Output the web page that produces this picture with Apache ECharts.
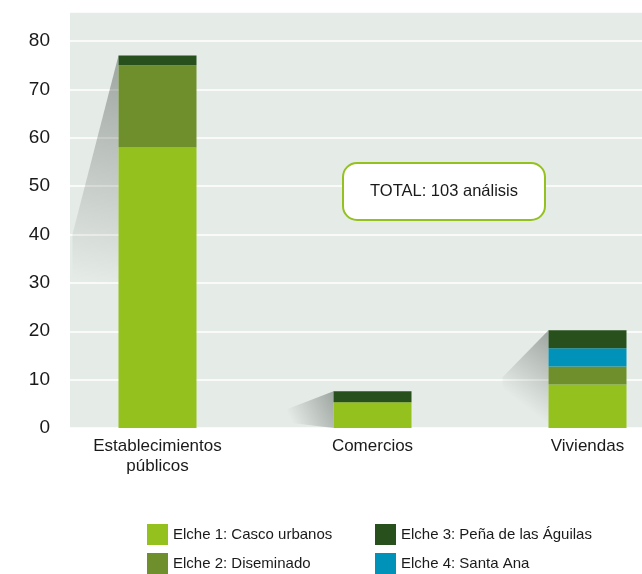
<!DOCTYPE html>
<html><head><meta charset="utf-8">
<script src="https://cdn.jsdelivr.net/npm/echarts@6/dist/echarts.min.js"></script>
<style>html,body{margin:0;padding:0;background:#fff}#c{width:642px;height:574px}</style>
</head><body><div id="c"></div>
<script>
const categories = ['Establecimientos\npúblicos', 'Comercios', 'Viviendas'];
const elche1 = [58, 5.3, 9.0];
const elche2 = [17, null, 3.7];
const elche3 = [2, 2.3, 3.7];
const elche4 = [null, null, 3.8];
const yTicks = [0, 10, 20, 30, 40, 50, 60, 70, 80];
const names = ['Elche 1: Casco urbanos', 'Elche 2: Diseminado', 'Elche 3: Peña de las Águilas', 'Elche 4: Santa Ana'];
const totalLabel = 'TOTAL: 103 análisis';

const colors = {e1:'#95c11f', e2:'#6e8f2c', e3:'#27501c', e4:'#0092b8'};
const FONT = 'Liberation Sans, Arial, sans-serif';
const totals = categories.map((c,i)=>[i, (elche1[i]||0)+(elche2[i]||0)+(elche3[i]||0)+(elche4[i]||0)]);
const BAR_W = 78;

const chart = echarts.init(document.getElementById('c'), null, {renderer:'canvas'});
chart.setOption({
  animation:false,
  backgroundColor:'#fff',
  grid:[
    {left:50, right:-53, top:12, bottom:146, containLabel:false, outerBoundsMode:'none'},
    {left:70, right:0, top:12, bottom:146, show:true, backgroundColor:'#e5ebe7', borderWidth:0, outerBoundsMode:'none'}
  ],
  xAxis:[
    {type:'category', gridIndex:0, data:categories,
     axisLine:{show:false}, axisTick:{show:false},
     axisLabel:{fontFamily:FONT, fontSize:17, color:'#1a1a1a', margin:8, lineHeight:20}},
    {type:'category', gridIndex:1, data:categories, show:false}
  ],
  yAxis:[
    {type:'value', gridIndex:0, min:0, max:86, interval:10, show:false, splitLine:{show:false}},
    {type:'value', gridIndex:1, min:0, max:86, interval:10,
     axisLine:{show:false}, axisTick:{show:false},
     splitLine:{lineStyle:{color:'#ffffff', width:1.5}},
     axisLabel:{fontFamily:FONT, fontSize:19, color:'#1a1a1a', margin:20,
       formatter:v=> yTicks.indexOf(v)>=0 ? String(v) : ''}}
  ],
  legend:[
    {orient:'vertical', left:142, top:519, height:80, itemWidth:21, itemHeight:21, itemGap:8, icon:'rect',
     data:[names[0], names[1]], textStyle:{fontFamily:FONT, fontSize:15, color:'#1a1a1a'}},
    {orient:'vertical', left:370, top:519, height:80, itemWidth:21, itemHeight:21, itemGap:8, icon:'rect',
     data:[names[2], names[3]], textStyle:{fontFamily:FONT, fontSize:15, color:'#1a1a1a'}}
  ],
  series:[
    {type:'custom', xAxisIndex:0, yAxisIndex:0, z:1, silent:true, data:totals,
     renderItem:(params, api)=>{
       const p = api.coord([api.value(0), api.value(1)]);
       const b = api.coord([api.value(0), 0]);
       const x0 = p[0]-BAR_W/2, y0 = p[1], h = b[1]-p[1];
       const dx = 46, dy = h*0.48;
       return {type:'polygon', shape:{points:[[x0,y0],[x0-dx,y0+dy],[x0-dx,y0+h*0.85],[x0,b[1]]]},
         style:{fill:new echarts.graphic.LinearGradient(1,0,0,0.6,[
           {offset:0,color:'rgba(60,70,65,0.42)'},{offset:1,color:'rgba(60,70,65,0)'}])}};
     }},
    {name:names[0], type:'bar', stack:'a', xAxisIndex:0, yAxisIndex:0, z:3, barWidth:BAR_W, data:elche1, itemStyle:{color:colors.e1}},
    {name:names[1], type:'bar', stack:'a', xAxisIndex:0, yAxisIndex:0, z:3, barWidth:BAR_W, data:elche2, itemStyle:{color:colors.e2}},
    {name:names[3], type:'bar', stack:'a', xAxisIndex:0, yAxisIndex:0, z:3, barWidth:BAR_W, data:elche4, itemStyle:{color:colors.e4}},
    {name:names[2], type:'bar', stack:'a', xAxisIndex:0, yAxisIndex:0, z:3, barWidth:BAR_W, data:elche3, itemStyle:{color:colors.e3}}
  ],
  graphic:[
    {type:'rect', z:100, shape:{x:343, y:163, width:202, height:57, r:14}, style:{fill:'#fff', stroke:'#95c11f', lineWidth:2}},
    {type:'text', z:101, x:444, y:191.5,
     style:{text:totalLabel, fontFamily:FONT, fontSize:16.5, fill:'#1a1a1a', align:'center', verticalAlign:'middle'}}
  ]
});
</script></body></html>
